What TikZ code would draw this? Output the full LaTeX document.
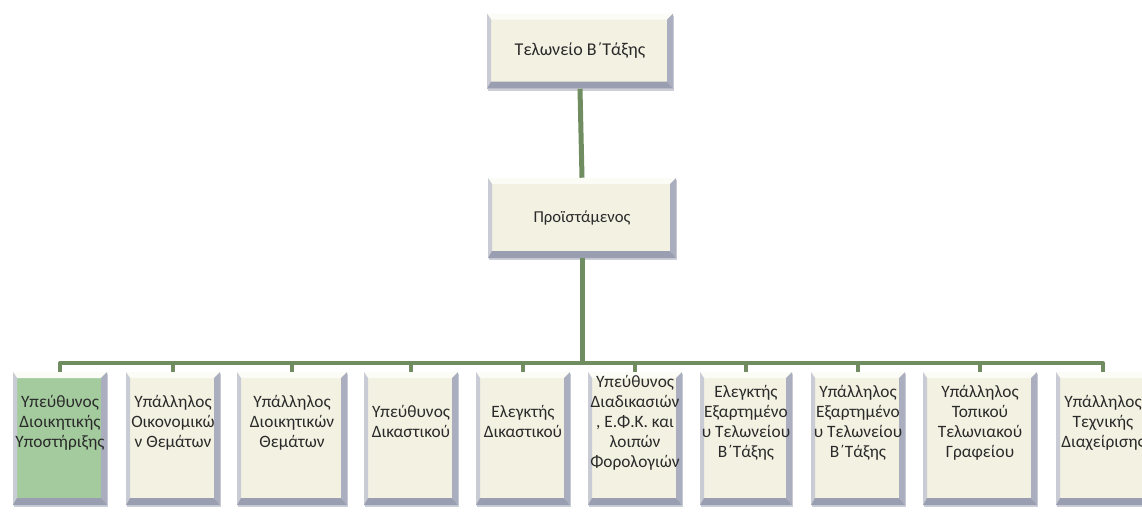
\documentclass[tikz,border=0pt]{standalone}
\usepackage{fontspec}
\setmainfont{Carlito}
\usepackage{xcolor}
\usetikzlibrary{calc,shadows}
\definecolor{boxcream}{HTML}{F3F1E2}
\definecolor{boxgreen}{HTML}{A3CB9E}
\definecolor{linkgreen}{HTML}{6F8D60}
\definecolor{bevdark}{HTML}{8E93A9}
\definecolor{bevmid}{HTML}{C9CBD5}
\definecolor{bevlight}{HTML}{FCFCF6}
\definecolor{txtgray}{HTML}{2A2A2A}
\tikzset{
  bevel/.style={path picture={
      \coordinate (bnw) at (path picture bounding box.north west);
      \coordinate (bne) at (path picture bounding box.north east);
      \coordinate (bsw) at (path picture bounding box.south west);
      \coordinate (bse) at (path picture bounding box.south east);
      \fill[bevlight] (bnw) -- (bne) -- ($(bne)+(-6,6)$) -- ($(bnw)+(4,6)$) -- cycle;
      \fill[bevmid] (bnw) -- ($(bnw)+(4,6)$) -- ($(bsw)+(4,-7)$) -- (bsw) -- cycle;
      \fill[bevdark!75] (bne) -- ($(bne)+(-6,6)$) -- ($(bse)+(-6,-7)$) -- (bse) -- cycle;
      \fill[bevdark!90] (bsw) -- (bse) -- ($(bse)+(-6,-7)$) -- ($(bsw)+(4,-7)$) -- cycle;
    }},
  tile/.style={rectangle,fill=boxcream,bevel,inner sep=0pt,align=center,
    text=txtgray,font=\fontsize{13}{15}\selectfont,
    drop shadow={shadow xshift=1pt,shadow yshift=-1.5pt,fill=bevdark,opacity=.45}},
  link/.style={linkgreen,line width=3pt},
  trunk/.style={linkgreen,line width=3.75pt}
}

\begin{document}
\begin{tikzpicture}[x=0.75pt,y=-0.75pt]
  \useasboundingbox (0,0) rectangle (1142,511);
  \node[tile,minimum width=139.5pt,minimum height=56.25pt,font=\fontsize{13.5}{15}\selectfont] (office) at (580,51) {Τελωνείο Β΄Τάξης};
  \node[tile,minimum width=141pt,minimum height=60pt,font=\fontsize{12.5}{15}\selectfont] (head) at (582,218) {Προϊστάμενος};
  \coordinate (busy) at (0,363);
  % staff row
  \foreach \n/\cx/\w/\fc/\txt in {
      1/60/70.5pt/boxgreen/{Υπεύθυνος\\Διοικητικής\\Υποστήριξης},
      2/173/70.5pt/boxcream/{Υπάλληλος\\Οικονομικώ\\ν Θεμάτων},
      3/292/82.5pt/boxcream/{Υπάλληλος\\Διοικητικών\\Θεμάτων},
      4/411/70.5pt/boxcream/{Υπεύθυνος\\Δικαστικού},
      5/523/70.5pt/boxcream/{Ελεγκτής\\Δικαστικού},
      6/635/70.5pt/boxcream/{Υπεύθυνος\\Διαδικασιών\\, Ε.Φ.Κ. και\\λοιπών\\Φορολογιών},
      7/746/69pt/boxcream/{Ελεγκτής\\Εξαρτημένο\\υ Τελωνείου\\Β΄Τάξης},
      8/858/70.5pt/boxcream/{Υπάλληλος\\Εξαρτημένο\\υ Τελωνείου\\Β΄Τάξης},
      9/980/85.5pt/boxcream/{Υπάλληλος\\Τοπικού\\Τελωνιακού\\Γραφείου},
      10/1103/70.5pt/boxcream/{Υπάλληλος\\Τεχνικής\\Διαχείρισης}} {
    \node[tile,fill=\fc,minimum width=\w,minimum height=99.75pt,text depth=25pt] (c\n) at (\cx,438.5) {\txt};
    \draw[link] (c\n.north) -- (c\n.north |- busy);
  }
  \draw[trunk] (office.south) -- (head.north);
  \draw[trunk] (head.south) -- (head.south |- busy);
  \draw[link,line cap=round] (c1.north |- busy) -- (c10.north |- busy);
\end{tikzpicture}
\end{document}
